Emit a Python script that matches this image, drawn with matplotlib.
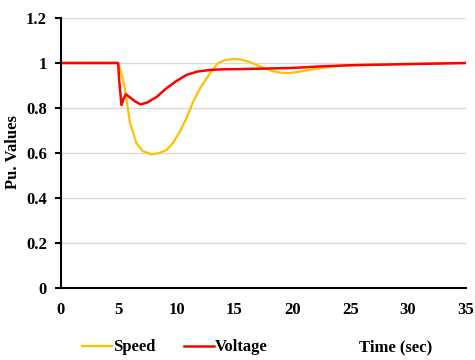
import matplotlib
matplotlib.use("Agg")
import matplotlib.pyplot as plt
from matplotlib.lines import Line2D

# ── Data ─────────────────────────────────────────────────
speed_t = [0, 4.95, 5.2, 5.53, 5.96, 6.54, 7.1, 7.84, 8.5, 9.13, 9.7, 10.29, 10.9,
           11.43, 12.0, 12.6, 13.1, 13.6, 14.2, 14.9, 15.5, 16.3, 17.2, 18.2,
           19.0, 19.7, 20.5, 21.5, 22.5, 23.5, 25.0, 27.0, 30.0, 35.0]
speed_v = [1.0, 1.0, 0.96, 0.888, 0.739, 0.643, 0.608, 0.594, 0.600, 0.613, 0.645,
           0.695, 0.76, 0.828, 0.885, 0.932, 0.97, 1.0, 1.013, 1.018, 1.016, 1.005,
           0.985, 0.965, 0.957, 0.955, 0.96, 0.97, 0.978, 0.985, 0.99, 0.993, 0.996,
           1.0]

volt_t = [0, 4.95, 5.05, 5.24, 5.42, 5.62, 5.9, 6.4, 6.89, 7.5, 8.3, 9.13, 10.0,
          10.86, 11.8, 12.88, 14.0, 15.5, 17.5, 20.0, 22.5, 25.0, 30.0, 35.0]
volt_v = [1.0, 1.0, 0.92, 0.813, 0.84, 0.861, 0.85, 0.83, 0.816, 0.825, 0.85,
          0.888, 0.92, 0.947, 0.962, 0.969, 0.972, 0.973, 0.975, 0.978, 0.985,
          0.99, 0.995, 1.0]

y_ticks = [0, 0.2, 0.4, 0.6, 0.8, 1.0, 1.2]
y_labels = ["0", "0.2", "0.4", "0.6", "0.8", "1", "1.2"]
x_ticks = [0, 5, 10, 15, 20, 25, 30, 35]

SPEED_COLOR = "#FFC000"
VOLT_COLOR = "#FF0000"
FS = 12

plt.rcParams["font.family"] = ["Liberation Serif", "DejaVu Serif"]
plt.rcParams["font.weight"] = "bold"

fig = plt.figure(figsize=(4.75, 3.6), dpi=100)
ax = fig.add_axes([0.128, 0.2, 0.853, 0.75])

ax.plot(speed_t, speed_v, color=SPEED_COLOR, linewidth=1.6, solid_joinstyle="round")
ax.plot(volt_t, volt_v, color=VOLT_COLOR, linewidth=1.8, solid_joinstyle="round")

ax.set_xlim(0, 35)
ax.set_ylim(0, 1.2)
ax.set_xticks(x_ticks)
ax.set_xticklabels([str(x) for x in x_ticks], fontsize=FS, fontweight="bold")
ax.set_yticks(y_ticks)
ax.set_yticklabels(y_labels, fontsize=FS, fontweight="bold")
ax.yaxis.grid(True, color="#d9d9d9", linewidth=1.0)
ax.set_axisbelow(True)

ax.spines["top"].set_visible(False)
ax.spines["right"].set_visible(False)
ax.spines["left"].set_linewidth(1.5)
ax.spines["bottom"].set_linewidth(1.5)
ax.tick_params(axis="y", length=4, width=1.5, pad=6)
ax.tick_params(axis="x", length=0, pad=10)

fig.text(0.027, 0.578, "Pu. Values", rotation=90, ha="center", va="center",
         fontsize=FS, fontweight="bold")
fig.text(0.832, 0.035, "Time (sec)", ha="center", va="center",
         fontsize=FS, fontweight="bold")

handles = [Line2D([0], [0], color=SPEED_COLOR, linewidth=1.6),
           Line2D([0], [0], color=VOLT_COLOR, linewidth=1.8)]
fig.legend(handles, ["Speed", "Voltage"], loc="center left",
           bbox_to_anchor=(0.155, 0.035), ncol=2, frameon=False,
           prop={"size": FS, "weight": "bold"}, handlelength=1.8,
           handletextpad=0.05, columnspacing=1.7, borderpad=0)

fig.savefig("out.png", dpi=100, facecolor="white")
